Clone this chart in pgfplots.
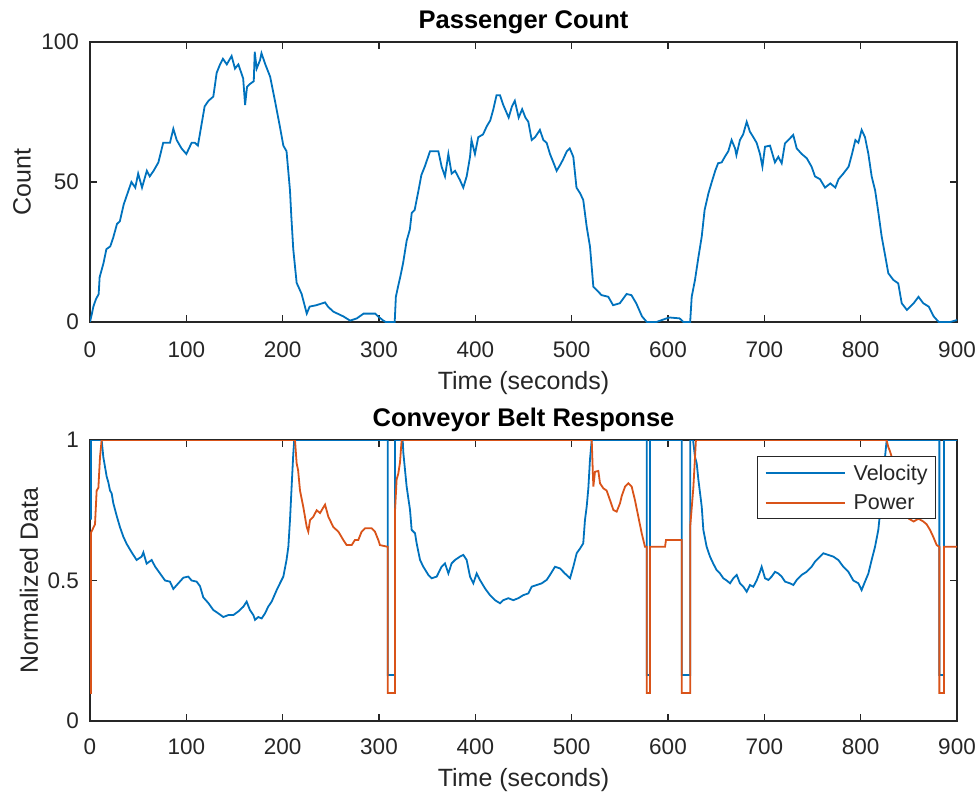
\documentclass[border=0pt]{standalone}
\usepackage{pgfplots}
\pgfplotsset{compat=1.18}
\usepackage{fontspec}
\setmainfont{Liberation Sans}
\definecolor{mblue}{rgb}{0,0.447,0.741}
\definecolor{morange}{rgb}{0.85,0.325,0.098}
\definecolor{maxis}{rgb}{0.15,0.15,0.15}
\pgfplotsset{
  mstyle/.style={
    scale only axis, width=867pt,
    xmin=0, xmax=900, xtick={0,100,...,900},
    axis line style={maxis, line width=1.5pt},
    every tick/.style={maxis, line width=1.4pt},
    major tick length=7pt,
    tick align=inside,
    /pgf/number format/assume math mode=true,
    tick label style={font=\fontsize{22.5}{24}\selectfont, text=maxis},
    yticklabel style={anchor=east, inner sep=0pt, xshift=-11pt},
    label style={font=\fontsize{25}{27}\selectfont, text=maxis},
    title style={font=\bfseries\fontsize{25.5}{27}\selectfont, text=black, anchor=center},
  },
}
\begin{document}
\begin{tikzpicture}
\path[use as bounding box] (0pt,0pt) rectangle (979pt,-794pt);
\begin{axis}[mstyle, height=280pt,
  at={(90pt,-322pt)}, anchor=south west,
  ymin=0, ymax=100, ytick={0,50,100},
  xticklabel style={anchor=center, inner sep=0pt, yshift=-28pt},
  title={Passenger Count},
  title style={at={(axis description cs:0.5,1.05)}},
  xlabel={Time (seconds)},
  xlabel style={at={(axis description cs:0.5,-0.218)}, anchor=center},
  ylabel={Count},
  ylabel style={at={(axis description cs:-0.0784,0.5)}, anchor=center, rotate=0},
]
\addplot[mblue, line width=1.8pt] coordinates {
(0,0) (2,3) (3.5,5.5) (6,8) (9,10) (10,16) (14,21) (17,26) (21,27) (24,30) (28,35) (31,36)
(35,42) (38,45) (43,50) (47,48) (50,53) (54,48) (59,54) (62,52) (66,54) (71,57) (76,64)
(83,64) (86.5,69) (90,65) (95,62) (100,60) (105.5,64) (109,64) (112,63) (114,67) (119,77)
(123,79) (128,80.5) (131.5,89) (135,92) (138,94) (142,92) (147,95) (150.5,90.5) (154,92)
(159,87) (161,77.5) (163,84) (166,85) (170,86) (171,96.5) (173,90.5) (176.5,93.5) (178,96)
(182,92) (187,87.6) (192,79) (197,70) (200.7,63) (204,61) (207.6,47) (209,37.6) (211,26)
(214.5,14) (219.7,10) (225,3) (228,5.5) (235,6) (244,7) (247,5.5) (252.6,3.7) (263,2)
(270,0.5) (277,1.3) (284,3) (296,3) (299,2) (304.5,0.5) (307,0) (316.3,0)
(317.5,9) (320,13) (322,16) (325,21) (328.7,29) (332,33) (334,39) (337,40) (341,47)
(344,52.5) (347.5,55.5) (353,61) (358,61) (361.6,61) (365,55.5) (368.5,52) (372,60)
(375.4,53) (379,54) (384,50.7) (387.5,48) (391,52) (394.5,59) (396,65) (399.6,60) (403,66)
(408,67) (412,70) (415.5,72) (418.7,76) (422,81) (425.6,81) (429,77.5) (434.6,73) (438,77)
(441,79) (445,73) (448.6,76) (452,73) (455,71.5) (458.5,65) (462,66) (467,68.6) (470.6,65)
(474,64) (477.5,60) (481,57) (484.4,54) (487.9,56) (491,58) (495,61) (498,62) (501.7,59)
(505,48) (508.7,46) (512,43.6) (515.6,34) (519,27) (522.5,12.6) (526,11.4) (531,9.6)
(538,9) (543,6) (550,6.7) (557,10) (562,9.6) (567,6.7) (573,2) (578,0) (588,0) (598.6,1.3)
(602,1.6) (612,1.3) (616,0) (623,0) (624.6,9) (628,15) (631.5,23) (635,30.5) (638,40)
(642,46) (645,49.5) (649,54) (652,56.7) (655.7,57) (659,59) (662.6,61) (666,65) (669.6,62)
(671,59.6) (674.7,65) (678,67) (681.7,71.5) (685,68) (688.6,66) (692,64) (695.5,60)
(698,55.5) (700.7,62.6) (705.9,63) (711,57) (714.5,59) (718,56.7) (721.4,63.8) (726.6,65.6)
(730,66.8) (733.6,62) (738.8,60) (744,58.5) (749,55.5) (752.6,52) (757.8,51) (763,48)
(768.5,49.5) (773.7,48) (777,51) (782,53) (787.5,55.5) (791,60) (794.5,65) (797.6,64)
(801,68.6) (804.5,66) (808,60) (811.4,52) (815,47) (818,40) (821.8,30.5) (825,24.5)
(828.7,17.4) (834,15) (839,13.8) (842.6,6.7) (848,4.3) (855,6.7) (860,9) (865,6.7)
(870.6,5.5) (875.8,2) (881,0) (893,0) (900,0.7)
};
\end{axis}
\begin{axis}[mstyle, height=281pt,
  at={(90pt,-721pt)}, anchor=south west,
  ymin=0, ymax=1, ytick={0,0.5,1},
  xticklabel style={anchor=center, inner sep=0pt, yshift=-26pt},
  title={Conveyor Belt Response},
  title style={at={(axis description cs:0.5,1.05)}},
  xlabel={Time (seconds)},
  xlabel style={at={(axis description cs:0.5,-0.21)}, anchor=center},
  ylabel={Normalized Data},
  ylabel style={at={(axis description cs:-0.0704,0.5)}, anchor=center, rotate=0},
  legend cell align=left,
  legend image code/.code={\draw[#1] (0pt,0pt) -- (79pt,0pt);},
  legend style={at={(axis description cs:0.976,0.943)}, anchor=north east,
    draw=maxis, line width=1pt, font=\fontsize{21.5}{23}\selectfont, text=maxis,
    inner xsep=7pt, inner ysep=7pt, row sep=11pt, column sep=7pt,
    nodes={inner sep=1pt}},
]
\addplot[mblue, line width=1.8pt] coordinates {
(0,0.72) (1,0.72) (1,1) (12.1,1) (13.8,0.94) (17.3,0.87) (19,0.85) (20.8,0.82) (22.5,0.81)
(24.2,0.775) (27.7,0.73) (31.1,0.69) (34.6,0.656) (38.1,0.63) (43.3,0.6) (48.4,0.573)
(53.6,0.585) (55.4,0.6) (58.8,0.56) (64,0.573) (67.5,0.55) (72.7,0.525) (77.9,0.5)
(83,0.496) (86.5,0.47) (91.7,0.49) (96.9,0.51) (102,0.514) (105.5,0.5) (110.7,0.496)
(114.2,0.48) (117.6,0.44) (122.8,0.42) (128,0.395) (133.2,0.383) (138.4,0.37) (143.6,0.377)
(148.8,0.377) (154,0.39) (159.2,0.407) (162.6,0.425) (166,0.395) (169.6,0.377) (171.3,0.36)
(174.7,0.37) (178.2,0.365) (181.7,0.383) (185,0.407) (188.6,0.425) (193.8,0.466)
(197.2,0.49) (200.7,0.514) (204,0.573) (205.9,0.62) (207.6,0.715) (209.3,0.834) (211,0.95)
(212,1) (309,1) (309,0.164) (316.5,0.164) (316.5,1) (324.6,1) (325.3,0.953) (328.7,0.834)
(332.2,0.751) (333.9,0.68) (337.4,0.668) (339.1,0.632) (342.6,0.573) (346,0.549)
(351.2,0.52) (354.7,0.508) (359.9,0.514) (365,0.549) (368.5,0.561) (372,0.525)
(375.4,0.561) (378.9,0.573) (384,0.585) (387.5,0.591) (391,0.573) (394.5,0.514)
(397.9,0.49) (401.4,0.525) (404.8,0.502) (410,0.472) (415.2,0.448) (420.4,0.43)
(425.6,0.419) (429,0.43) (434.3,0.437) (439.4,0.43) (444.6,0.437) (449.8,0.448)
(455,0.454) (458.5,0.478) (463.7,0.484) (468.9,0.49) (474,0.502) (477.5,0.52)
(482.7,0.549) (487.9,0.543) (493,0.525) (498.3,0.508) (501.7,0.549) (505.2,0.597)
(508.7,0.614) (512,0.632) (513.8,0.715) (515.6,0.763) (517.3,0.828) (519,0.93) (520.8,1)
(578,1) (578,0.164) (581.3,0.164) (581.3,1) (614.2,1) (614.2,0.164) (623,0.164) (623,1)
(626,1) (628,0.94) (629.8,0.917) (631.5,0.86) (635,0.763) (636.7,0.68) (640.1,0.62)
(643.6,0.585) (647,0.56) (650.5,0.537) (654,0.525) (657.4,0.508) (660.9,0.5) (664.4,0.49)
(667.8,0.508) (671.3,0.52) (674.7,0.49) (678.2,0.478) (681.7,0.46) (685.1,0.484)
(688.6,0.478) (692,0.5) (695.5,0.531) (697.2,0.549) (700.7,0.508) (704.2,0.502)
(707.6,0.514) (711.1,0.531) (714.5,0.525) (718,0.514) (721.5,0.496) (726.6,0.49)
(730.1,0.484) (733.6,0.502) (738.8,0.52) (743.9,0.531) (749.1,0.549) (752.6,0.567)
(757.8,0.585) (761.2,0.597) (766.4,0.591) (771.6,0.585) (776.8,0.573) (782,0.549)
(787.2,0.531) (792.4,0.5) (797.6,0.49) (801,0.466) (804.5,0.496) (808,0.525) (811.4,0.573)
(814.9,0.62) (818.3,0.68) (820.1,0.74) (823,0.86) (827,1) (881.7,1) (881.7,0.164)
(886.5,0.164) (886.5,1) (900,1)
};
\addlegendentry{Velocity}
\addplot[morange, line width=1.8pt] coordinates {
(0,0.1) (1,0.1) (1,0.67) (5.2,0.7) (6.9,0.82) (8.7,0.83) (10.4,0.94) (12.1,1) (212,1)
(212.8,1) (214.5,0.917) (216,0.893) (218,0.82) (221.5,0.76) (225,0.69) (226.6,0.674)
(228.4,0.715) (231.8,0.727) (235.3,0.75) (238.8,0.74) (242.2,0.76) (244,0.77)
(247.4,0.727) (252.6,0.69) (257.8,0.674) (263,0.644) (266.4,0.626) (271.6,0.626)
(275,0.644) (278.5,0.644) (282,0.674) (285.5,0.686) (292.4,0.686) (295.8,0.674)
(299.3,0.644) (301,0.626) (309,0.62) (309,0.1) (316.5,0.1) (316.5,0.74) (318.3,0.86)
(320,0.88) (321.8,0.92) (323.5,1) (520.8,1) (522.5,0.834) (524.2,0.887) (527.7,0.89)
(529.4,0.846) (532.9,0.828) (536.3,0.82) (539.8,0.786) (543.3,0.751) (546.7,0.745)
(550.2,0.775) (551.9,0.8) (555.4,0.834) (558.8,0.846) (562.3,0.834) (565.7,0.786)
(569.2,0.727) (572.7,0.668) (576.1,0.62) (578,0.62) (578,0.1) (581.3,0.1) (581.3,0.62)
(596.9,0.62) (597.9,0.644) (614.2,0.644) (614.2,0.1) (623,0.1) (623,0.69) (626.3,0.83)
(629,1) (826.9,1) (828.6,0.976) (830.4,0.96) (834,0.92) (838,0.87) (842,0.82) (846,0.76)
(850,0.72) (855,0.71) (860,0.72) (865,0.71) (868.5,0.70) (872,0.68) (875.4,0.655)
(878.9,0.626) (881.7,0.62) (881.7,0.1) (886.5,0.1) (886.5,0.62) (900,0.62)
};
\addlegendentry{Power}
\end{axis}
\end{tikzpicture}
\end{document}
